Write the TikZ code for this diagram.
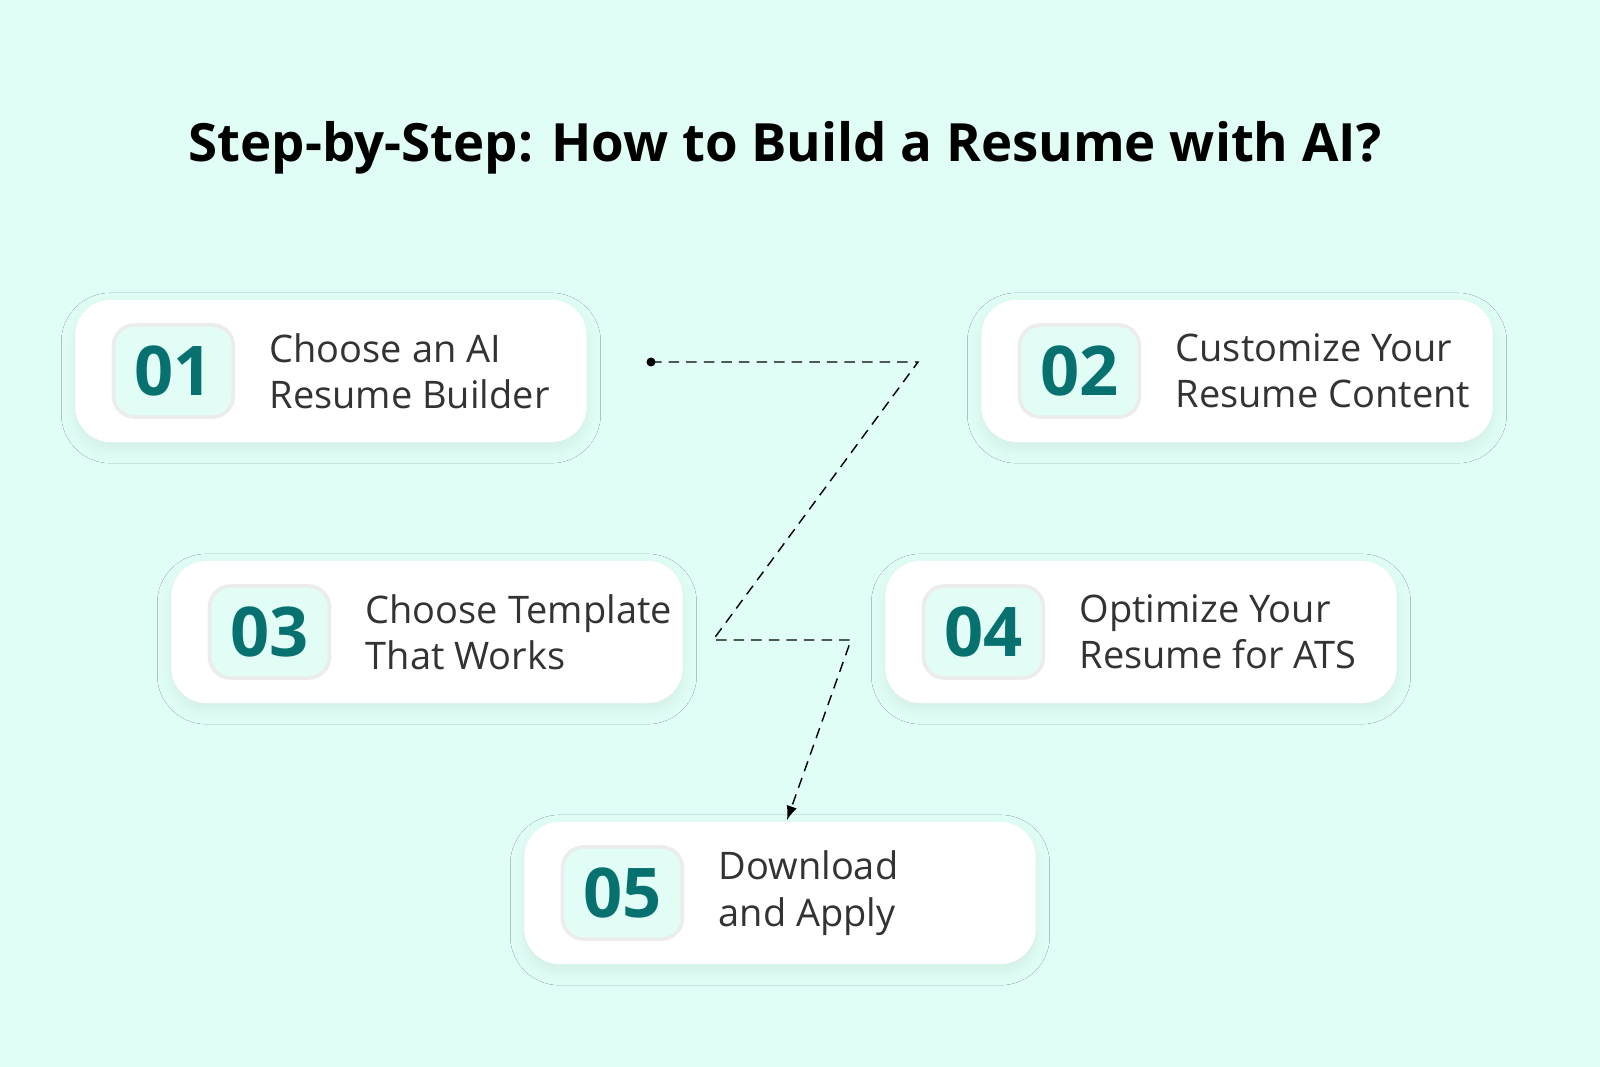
\documentclass[tikz,border=0pt]{standalone}
\usepackage{fontspec}
\setmainfont{Open Sans}
\usetikzlibrary{positioning,shadows.blur}
\definecolor{bgmint}{HTML}{E0FDF6}
\definecolor{numteal}{HTML}{07716F}
\definecolor{numfill}{HTML}{E2FCF6}
\definecolor{txt}{HTML}{333333}
\tikzset{
  >=latex,
  card/.style = {fill=white, rounded corners=10pt, minimum width=5.11cm,
    minimum height=1.42cm, blur shadow={shadow blur steps=6, shadow xshift=0pt,
    shadow yshift=-2pt, shadow blur radius=4pt, shadow opacity=6}},
  num/.style = {fill=numfill, draw=gray!15, line width=1pt, rounded corners=6pt,
    minimum width=1.2cm, minimum height=0.92cm, text=numteal,
    font=\fontsize{19.5}{19.5}\selectfont\bfseries},
  label/.style = {align=left, text=txt, font=\fontsize{10.8}{13.2}\selectfont,
    anchor=west},
  path/.style = {densely dashed, thin, black}
}
\begin{document}
\begin{tikzpicture}[x=0.01cm,y=-0.01cm]
  \useasboundingbox (0,0) rectangle (1600,1067);
  \clip (0,0) rectangle (1600,1067);
  \fill[bgmint] (0,0) rectangle (1600,1067);
  \node (title) at (785,148) {\fontsize{15}{15}\selectfont\bfseries Step-by-Step: How to Build a Resume with AI?};
  % cards
  \node[card] (c1) at (331,371) {};
  \node[card] (c2) at (1237,371) {};
  \node[card] (c3) at (427,632) {};
  \node[card] (c4) at (1141,632) {};
  \node[card] (c5) at (780,893) {};
  \foreach \c/\n/\t in {c1/01/{Choose an AI\\Resume Builder},
      c2/02/{Customize Your\\Resume Content},
      c3/03/{Choose Template\\That Works},
      c4/04/{Optimize Your\\Resume for ATS},
      c5/05/{Download\\and Apply}} {
    \node[num, right=0.37cm of \c.west] (n\c) {\n};
    \node[label, right=0.22cm of n\c.east] (t\c) {\t};
  }
  % connector
  \coordinate (p0) at (651,362);
  \coordinate (p1) at (918,362);
  \coordinate (p2) at (713,640);
  \coordinate (p3) at (851,640);
  \coordinate (p4) at (787,820);
  \fill (p0) circle (4.5);
  \draw[path,->] (p0) -- (p1) -- (p2) -- (p3) -- (p4);
\end{tikzpicture}
\end{document}
